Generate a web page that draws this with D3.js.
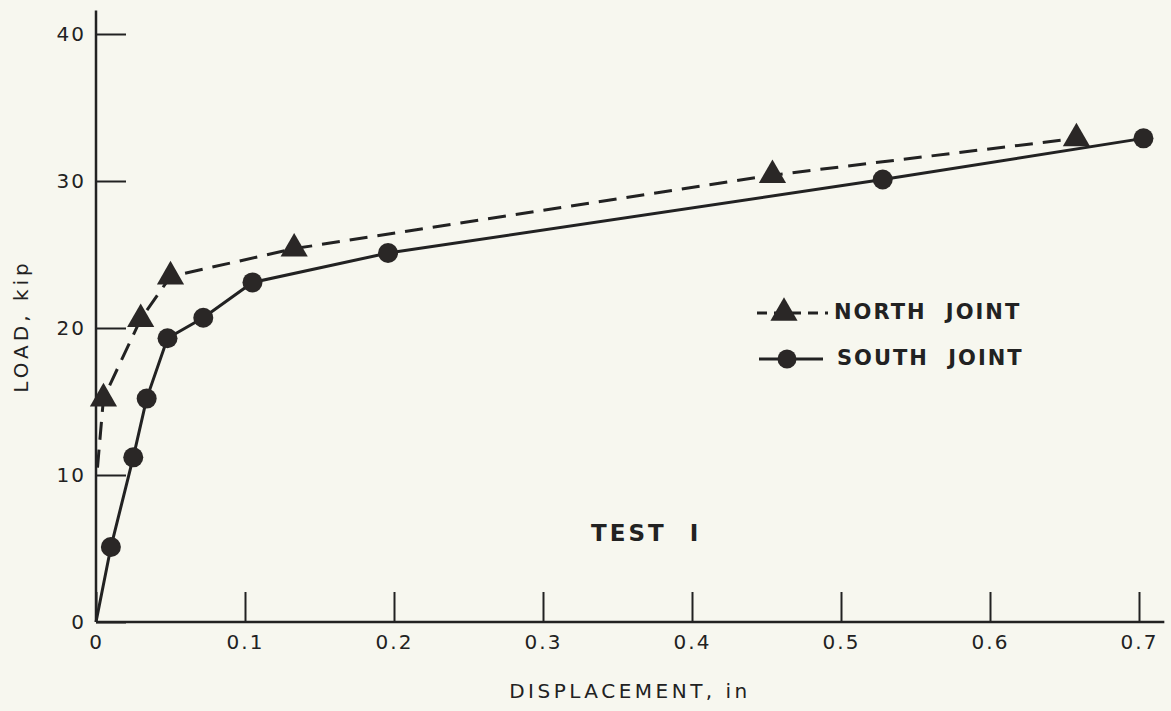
<!DOCTYPE html>
<html>
<head>
<meta charset="utf-8">
<script src="https://cdn.jsdelivr.net/npm/d3@7"></script>
<style>
    html, body { margin: 0; padding: 0; background: #f7f7ef; }
    svg { display: block; }
    text { font-family: "DejaVu Sans", sans-serif; fill: #222; }
</style>
</head>
<body>
<script>
    // values
    var xTicks = [0, 0.1, 0.2, 0.3, 0.4, 0.5, 0.6, 0.7];
    var yTicks = [0, 10, 20, 30, 40];

    var northDisp = [0.001, 0.005, 0.030, 0.050, 0.133, 0.454, 0.658];
    var northLoad = [10.5, 15.2, 20.6, 23.5, 25.4, 30.4, 32.9];

    var southDisp = [0, 0.010, 0.025, 0.034, 0.048, 0.072, 0.105, 0.196, 0.528, 0.703];
    var southLoad = [0, 5.1, 11.2, 15.2, 19.3, 20.7, 23.1, 25.1, 30.1, 32.9];

    var ink = "#222";
    var W = 1171, H = 711;

    var svg = d3.select("body")
        .append("svg")
        .attr("width", W)
        .attr("height", H);

    var xScale = d3.scaleLinear().domain([0, 0.7]).range([96, 1139]);
    var yScale = d3.scaleLinear().domain([0, 40]).range([622, 34]);

    // axis lines run a bit past the last tick
    svg.append("line")
        .attr("x1", xScale(0)).attr("x2", xScale(0.717))
        .attr("y1", yScale(0)).attr("y2", yScale(0))
        .attr("stroke", ink).attr("stroke-width", 2.5);
    svg.append("line")
        .attr("x1", xScale(0)).attr("x2", xScale(0))
        .attr("y1", yScale(0)).attr("y2", yScale(41.6))
        .attr("stroke", ink).attr("stroke-width", 2.5);

    var xAxis = svg.append("g")
        .attr("transform", "translate(0," + yScale(0) + ")")
        .call(d3.axisBottom(xScale)
            .tickValues(xTicks)
            .tickFormat(function(d){ return d === 0 ? "0" : d3.format(".1f")(d); })
            .tickSizeInner(-30).tickSizeOuter(0).tickPadding(13));
    xAxis.select(".domain").remove();
    xAxis.selectAll("line").attr("stroke", ink).attr("stroke-width", 2);
    xAxis.selectAll("text")
        .attr("dy", "0.71em")
        .style("font-size", "20px")
        .style("letter-spacing", "2px")
        .style("fill", ink);

    var yAxis = svg.append("g")
        .attr("transform", "translate(" + xScale(0) + ",0)")
        .call(d3.axisLeft(yScale)
            .tickValues(yTicks)
            .tickSizeInner(-30).tickSizeOuter(0).tickPadding(10));
    yAxis.select(".domain").remove();
    yAxis.selectAll("line").attr("stroke", ink).attr("stroke-width", 2);
    yAxis.selectAll("text")
        .style("font-size", "20px")
        .style("letter-spacing", "2px")
        .style("fill", ink);

    // axis titles
    svg.append("text")
        .attr("x", 630).attr("y", 692)
        .attr("text-anchor", "middle")
        .attr("dominant-baseline", "middle")
        .style("font-size", "20px")
        .style("letter-spacing", "3.5px")
        .text("DISPLACEMENT, in");

    svg.append("text")
        .attr("transform", "translate(22,326) rotate(-90)")
        .attr("text-anchor", "middle")
        .attr("dominant-baseline", "middle")
        .style("font-size", "20px")
        .style("letter-spacing", "4px")
        .text("LOAD, kip");

    var line = d3.line()
        .x(function(d){ return xScale(d.x); })
        .y(function(d){ return yScale(d.y); });

    var north = northDisp.map(function(d, i){ return {x: d, y: northLoad[i]}; });
    var south = southDisp.map(function(d, i){ return {x: d, y: southLoad[i]}; });

    svg.append("path")
        .datum(north)
        .attr("fill", "none")
        .attr("stroke", ink)
        .attr("stroke-width", 3)
        .attr("stroke-dasharray", "18 10")
        .attr("d", line);

    svg.append("path")
        .datum(south)
        .attr("fill", "none")
        .attr("stroke", ink)
        .attr("stroke-width", 3)
        .attr("d", line);

    var tri = d3.symbol().type(d3.symbolTriangle).size(320);

    // first point of each series is just where the curve starts, no marker
    svg.append("g")
        .selectAll("path")
        .data(north.slice(1))
        .enter()
        .append("path")
        .attr("d", tri)
        .attr("transform", function(d){ return "translate(" + xScale(d.x) + "," + yScale(d.y) + ")"; })
        .attr("fill", "#2a2726");

    svg.append("g")
        .selectAll("circle")
        .data(south.slice(1))
        .enter()
        .append("circle")
        .attr("cx", function(d){ return xScale(d.x); })
        .attr("cy", function(d){ return yScale(d.y); })
        .attr("r", 10)
        .attr("fill", "#2a2726");

    // legend
    var leg = svg.append("g");
    leg.append("line")
        .attr("x1", 757).attr("x2", 828).attr("y1", 313).attr("y2", 313)
        .attr("stroke", ink).attr("stroke-width", 3)
        .attr("stroke-dasharray", "10 7");
    leg.append("path")
        .attr("d", tri)
        .attr("transform", "translate(784,313)")
        .attr("fill", "#2a2726");
    leg.append("text")
        .attr("x", 834).attr("y", 313)
        .attr("dominant-baseline", "middle")
        .style("font-size", "21px")
        .style("font-weight", "bold")
        .style("letter-spacing", "2px")
        .style("word-spacing", "10px")
        .text("NORTH JOINT");

    leg.append("line")
        .attr("x1", 759).attr("x2", 823).attr("y1", 359).attr("y2", 359)
        .attr("stroke", ink).attr("stroke-width", 3);
    leg.append("circle")
        .attr("cx", 787).attr("cy", 359).attr("r", 9.5)
        .attr("fill", "#2a2726");
    leg.append("text")
        .attr("x", 837).attr("y", 359)
        .attr("dominant-baseline", "middle")
        .style("font-size", "21px")
        .style("font-weight", "bold")
        .style("letter-spacing", "2px")
        .style("word-spacing", "10px")
        .text("SOUTH JOINT");

    svg.append("text")
        .attr("x", 591).attr("y", 534)
        .attr("dominant-baseline", "middle")
        .style("font-size", "23px")
        .style("font-weight", "bold")
        .style("letter-spacing", "3px")
        .style("word-spacing", "12px")
        .text("TEST I");
</script>
</body>
</html>
